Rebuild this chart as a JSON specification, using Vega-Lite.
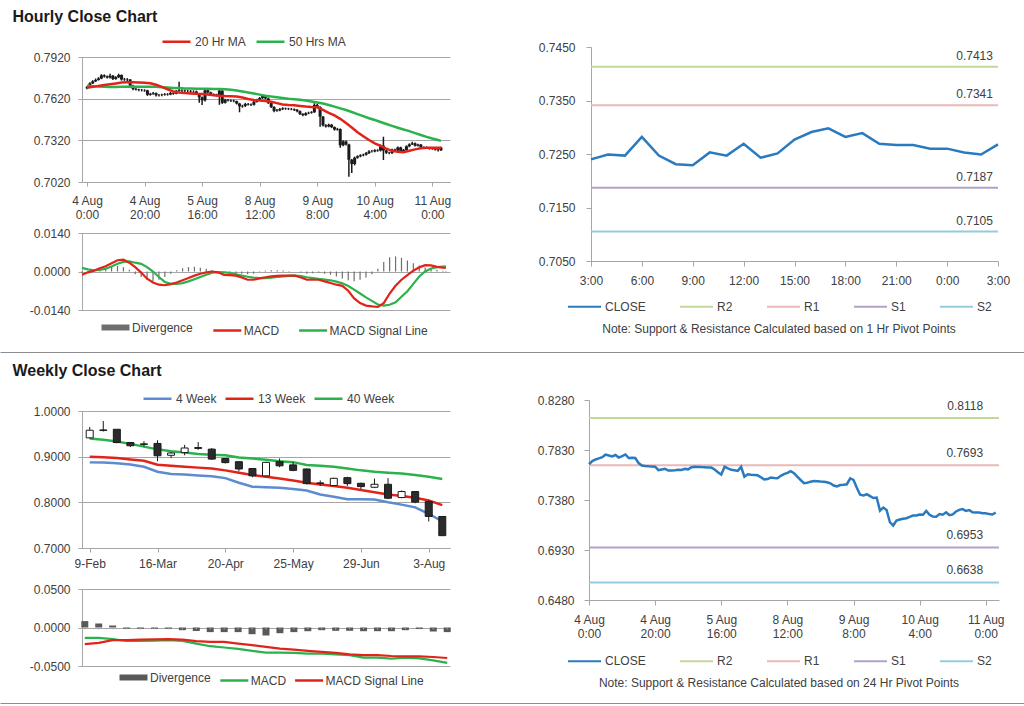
{
"$schema":"https://vega.github.io/schema/vega-lite/v6.json",
"width":1024,"height":706,"autosize":"none","padding":0,
"config":{"view":{"stroke":null},"font":"Liberation Sans",
 "axis":{"labelFont":"Liberation Sans","labelFontSize":12,"labelColor":"#404040","domainColor":"#a6a6a6","tickColor":"#a6a6a6","gridColor":"#a6a6a6","labelFlush":false,"labelOverlap":false},
 "legend":{"labelFont":"Liberation Sans","labelFontSize":12,"labelColor":"#404040","padding":0,"symbolType":"stroke","direction":"horizontal","orient":"none"}},
"datasets":{
"hourly":[
{"i":0,"o":0.7695,"h":0.7712,"l":0.7688,"c":0.7702},{"i":1,"o":0.7702,"h":0.7738,"l":0.7698,"c":0.773},{"i":2,"o":0.773,"h":0.7752,"l":0.7725,"c":0.7745},{"i":3,"o":0.7745,"h":0.7765,"l":0.774,"c":0.7755},{"i":4,"o":0.7755,"h":0.7775,"l":0.775,"c":0.7765},{"i":5,"o":0.7765,"h":0.7796,"l":0.776,"c":0.7788},{"i":6,"o":0.7788,"h":0.7795,"l":0.7772,"c":0.778},{"i":7,"o":0.778,"h":0.7786,"l":0.7765,"c":0.7772},{"i":8,"o":0.7772,"h":0.78,"l":0.7766,"c":0.7785},{"i":9,"o":0.7785,"h":0.779,"l":0.7755,"c":0.7762},
{"i":10,"o":0.7762,"h":0.7782,"l":0.7756,"c":0.7775},{"i":11,"o":0.7775,"h":0.78,"l":0.7768,"c":0.779},{"i":12,"o":0.779,"h":0.7795,"l":0.775,"c":0.7758},{"i":13,"o":0.7758,"h":0.777,"l":0.7748,"c":0.776},{"i":14,"o":0.776,"h":0.7768,"l":0.7745,"c":0.7758},{"i":15,"o":0.7758,"h":0.7762,"l":0.7705,"c":0.7712},{"i":16,"o":0.7712,"h":0.772,"l":0.768,"c":0.769},{"i":17,"o":0.769,"h":0.7698,"l":0.7678,"c":0.7686},{"i":18,"o":0.7686,"h":0.7692,"l":0.7674,"c":0.7683},{"i":19,"o":0.7683,"h":0.769,"l":0.7672,"c":0.7682},
{"i":20,"o":0.7682,"h":0.7688,"l":0.767,"c":0.768},{"i":21,"o":0.768,"h":0.7684,"l":0.764,"c":0.7648},{"i":22,"o":0.7648,"h":0.7662,"l":0.7642,"c":0.7655},{"i":23,"o":0.7655,"h":0.7668,"l":0.7648,"c":0.766},{"i":24,"o":0.766,"h":0.7665,"l":0.7636,"c":0.7645},{"i":25,"o":0.7645,"h":0.7654,"l":0.7636,"c":0.7646},{"i":26,"o":0.7646,"h":0.7656,"l":0.7638,"c":0.7648},{"i":27,"o":0.7648,"h":0.766,"l":0.7642,"c":0.7652},{"i":28,"o":0.7652,"h":0.766,"l":0.7642,"c":0.765},{"i":29,"o":0.765,"h":0.7668,"l":0.7645,"c":0.766},
{"i":30,"o":0.766,"h":0.7666,"l":0.7648,"c":0.7656},{"i":31,"o":0.7656,"h":0.7682,"l":0.7652,"c":0.7675},{"i":32,"o":0.7675,"h":0.7742,"l":0.767,"c":0.768},{"i":33,"o":0.768,"h":0.7688,"l":0.7668,"c":0.7678},{"i":34,"o":0.7678,"h":0.7686,"l":0.7666,"c":0.7676},{"i":35,"o":0.7676,"h":0.7684,"l":0.7665,"c":0.7675},{"i":36,"o":0.7675,"h":0.7682,"l":0.7662,"c":0.7672},{"i":37,"o":0.7672,"h":0.768,"l":0.766,"c":0.7672},{"i":38,"o":0.7672,"h":0.7678,"l":0.7648,"c":0.7655},{"i":39,"o":0.7655,"h":0.766,"l":0.759,"c":0.763},
{"i":40,"o":0.763,"h":0.7635,"l":0.7574,"c":0.7608},{"i":41,"o":0.7608,"h":0.7688,"l":0.76,"c":0.768},{"i":42,"o":0.768,"h":0.769,"l":0.7658,"c":0.7665},{"i":43,"o":0.7665,"h":0.767,"l":0.7645,"c":0.7652},{"i":44,"o":0.7652,"h":0.7658,"l":0.764,"c":0.7648},{"i":45,"o":0.7648,"h":0.7655,"l":0.7635,"c":0.7642},{"i":46,"o":0.7642,"h":0.7686,"l":0.7576,"c":0.7678},{"i":47,"o":0.7678,"h":0.768,"l":0.7582,"c":0.759},{"i":48,"o":0.759,"h":0.762,"l":0.7585,"c":0.7612},{"i":49,"o":0.7612,"h":0.7618,"l":0.76,"c":0.7608},
{"i":50,"o":0.7608,"h":0.7614,"l":0.7596,"c":0.7605},{"i":51,"o":0.7605,"h":0.7612,"l":0.7594,"c":0.7602},{"i":52,"o":0.7602,"h":0.7606,"l":0.7578,"c":0.7585},{"i":53,"o":0.7585,"h":0.759,"l":0.7522,"c":0.7565},{"i":54,"o":0.7565,"h":0.7576,"l":0.7555,"c":0.7568},{"i":55,"o":0.7568,"h":0.759,"l":0.756,"c":0.7582},{"i":56,"o":0.7582,"h":0.7588,"l":0.757,"c":0.7578},{"i":57,"o":0.7578,"h":0.7586,"l":0.7568,"c":0.7576},{"i":58,"o":0.7576,"h":0.7606,"l":0.757,"c":0.7598},{"i":59,"o":0.7598,"h":0.762,"l":0.7592,"c":0.7612},
{"i":60,"o":0.7612,"h":0.7632,"l":0.7606,"c":0.7625},{"i":61,"o":0.7625,"h":0.7648,"l":0.7618,"c":0.764},{"i":62,"o":0.764,"h":0.7645,"l":0.7615,"c":0.7622},{"i":63,"o":0.7622,"h":0.7628,"l":0.7582,"c":0.759},{"i":64,"o":0.759,"h":0.7596,"l":0.7552,"c":0.756},{"i":65,"o":0.756,"h":0.7565,"l":0.7522,"c":0.7532},{"i":66,"o":0.7532,"h":0.7545,"l":0.7525,"c":0.7536},{"i":67,"o":0.7536,"h":0.7552,"l":0.753,"c":0.7545},{"i":68,"o":0.7545,"h":0.7558,"l":0.7538,"c":0.755},{"i":69,"o":0.755,"h":0.7556,"l":0.754,"c":0.7548},
{"i":70,"o":0.7548,"h":0.7554,"l":0.7538,"c":0.7546},{"i":71,"o":0.7546,"h":0.7553,"l":0.7537,"c":0.7545},{"i":72,"o":0.7545,"h":0.755,"l":0.7532,"c":0.754},{"i":73,"o":0.754,"h":0.7545,"l":0.7522,"c":0.753},{"i":74,"o":0.753,"h":0.7535,"l":0.7502,"c":0.751},{"i":75,"o":0.751,"h":0.7515,"l":0.7494,"c":0.7502},{"i":76,"o":0.7502,"h":0.7522,"l":0.7496,"c":0.7515},{"i":77,"o":0.7515,"h":0.7526,"l":0.7508,"c":0.7518},{"i":78,"o":0.7518,"h":0.753,"l":0.7512,"c":0.7522},{"i":79,"o":0.7522,"h":0.7587,"l":0.7518,"c":0.7575},
{"i":80,"o":0.7575,"h":0.7584,"l":0.7552,"c":0.756},{"i":81,"o":0.756,"h":0.7565,"l":0.7418,"c":0.749},{"i":82,"o":0.749,"h":0.7495,"l":0.742,"c":0.7428},{"i":83,"o":0.7428,"h":0.7436,"l":0.7412,"c":0.742},{"i":84,"o":0.742,"h":0.744,"l":0.7414,"c":0.7432},{"i":85,"o":0.7432,"h":0.7438,"l":0.7408,"c":0.7415},{"i":86,"o":0.7415,"h":0.742,"l":0.739,"c":0.7398},{"i":87,"o":0.7398,"h":0.741,"l":0.739,"c":0.7402},{"i":88,"o":0.7402,"h":0.7406,"l":0.7267,"c":0.7285},{"i":89,"o":0.7285,"h":0.732,"l":0.7278,"c":0.7312},
{"i":90,"o":0.7312,"h":0.7318,"l":0.7282,"c":0.729},{"i":91,"o":0.729,"h":0.7295,"l":0.7058,"c":0.718},{"i":92,"o":0.718,"h":0.7186,"l":0.7085,"c":0.715},{"i":93,"o":0.715,"h":0.7202,"l":0.714,"c":0.7195},{"i":94,"o":0.7195,"h":0.7212,"l":0.7188,"c":0.7205},{"i":95,"o":0.7205,"h":0.722,"l":0.7198,"c":0.7212},{"i":96,"o":0.7212,"h":0.7224,"l":0.7205,"c":0.7216},{"i":97,"o":0.7216,"h":0.7236,"l":0.721,"c":0.7228},{"i":98,"o":0.7228,"h":0.7248,"l":0.7222,"c":0.724},{"i":99,"o":0.724,"h":0.725,"l":0.7232,"c":0.724},
{"i":100,"o":0.724,"h":0.7256,"l":0.7234,"c":0.7249},{"i":101,"o":0.7249,"h":0.7256,"l":0.7238,"c":0.7247},{"i":102,"o":0.7247,"h":0.729,"l":0.724,"c":0.7282},{"i":103,"o":0.7282,"h":0.7346,"l":0.7178,"c":0.7247},{"i":104,"o":0.7247,"h":0.7252,"l":0.7222,"c":0.7231},{"i":105,"o":0.7231,"h":0.7238,"l":0.722,"c":0.7229},{"i":106,"o":0.7229,"h":0.726,"l":0.7222,"c":0.7253},{"i":107,"o":0.7253,"h":0.726,"l":0.724,"c":0.7247},{"i":108,"o":0.7247,"h":0.7276,"l":0.724,"c":0.7269},{"i":109,"o":0.7269,"h":0.7274,"l":0.7236,"c":0.7243},
{"i":110,"o":0.7243,"h":0.7258,"l":0.7236,"c":0.7251},{"i":111,"o":0.7251,"h":0.7284,"l":0.7245,"c":0.7277},{"i":112,"o":0.7277,"h":0.7298,"l":0.727,"c":0.7291},{"i":113,"o":0.7291,"h":0.731,"l":0.7286,"c":0.7298},{"i":114,"o":0.7298,"h":0.7304,"l":0.7275,"c":0.7282},{"i":115,"o":0.7282,"h":0.7296,"l":0.7276,"c":0.7289},{"i":116,"o":0.7289,"h":0.7294,"l":0.7262,"c":0.7269},{"i":117,"o":0.7269,"h":0.7276,"l":0.726,"c":0.7267},{"i":118,"o":0.7267,"h":0.7275,"l":0.726,"c":0.7267},{"i":119,"o":0.7267,"h":0.7272,"l":0.7253,"c":0.726},
{"i":120,"o":0.726,"h":0.7268,"l":0.7252,"c":0.726},{"i":121,"o":0.726,"h":0.7266,"l":0.7246,"c":0.7253},{"i":122,"o":0.7253,"h":0.7258,"l":0.724,"c":0.7249},{"i":123,"o":0.7249,"h":0.7274,"l":0.7244,"c":0.7268}
],
"hma":[
{"i":0,"a":0.7699,"b":0.7713,"m":-0.0012,"s":0.0013,"d":-0.0005},{"i":2,"a":0.7705,"b":0.771,"m":-0.0003,"s":0.0008,"d":0.0002},{"i":4,"a":0.7712,"b":0.7707,"m":0.0003,"s":0.0004,"d":0.0005},{"i":6,"a":0.7718,"b":0.7705,"m":0.0012,"s":0.0006,"d":0.001},{"i":8,"a":0.7724,"b":0.7704,"m":0.0019,"s":0.001,"d":0.0014},{"i":10,"a":0.773,"b":0.7704,"m":0.003,"s":0.0018,"d":0.0018},{"i":12,"a":0.7736,"b":0.7705,"m":0.0041,"s":0.0028,"d":0.002},{"i":14,"a":0.7738,"b":0.7705,"m":0.0043,"s":0.0035,"d":0.0016},{"i":16,"a":0.7738,"b":0.7706,"m":0.0032,"s":0.0037,"d":0.0006},{"i":18,"a":0.7736,"b":0.7706,"m":0.0016,"s":0.0032,"d":-0.001},
{"i":20,"a":0.7734,"b":0.7706,"m":-0.0004,"s":0.0028,"d":-0.002},{"i":22,"a":0.7731,"b":0.7706,"m":-0.0026,"s":0.0016,"d":-0.003},{"i":24,"a":0.772,"b":0.7705,"m":-0.004,"s":0.0,"d":-0.0035},{"i":26,"a":0.7705,"b":0.7703,"m":-0.0048,"s":-0.002,"d":-0.003},{"i":28,"a":0.7688,"b":0.77,"m":-0.005,"s":-0.0038,"d":-0.002},{"i":30,"a":0.7672,"b":0.7697,"m":-0.0046,"s":-0.0045,"d":-0.0008},{"i":32,"a":0.7665,"b":0.7696,"m":-0.004,"s":-0.0045,"d":0.0005},{"i":34,"a":0.7661,"b":0.7694,"m":-0.0032,"s":-0.0042,"d":0.0012},{"i":36,"a":0.7658,"b":0.7693,"m":-0.0024,"s":-0.0036,"d":0.0016},{"i":38,"a":0.7655,"b":0.7692,"m":-0.0015,"s":-0.0028,"d":0.0017},
{"i":40,"a":0.7654,"b":0.7691,"m":-0.0008,"s":-0.002,"d":0.0014},{"i":42,"a":0.765,"b":0.7691,"m":-0.0003,"s":-0.0012,"d":0.001},{"i":44,"a":0.7645,"b":0.769,"m":0.0,"s":-0.0004,"d":0.0005},{"i":46,"a":0.7641,"b":0.769,"m":-0.0003,"s":-0.0002,"d":0.0001},{"i":48,"a":0.7639,"b":0.7688,"m":-0.0012,"s":-0.0003,"d":-0.0005},{"i":50,"a":0.7638,"b":0.7684,"m":-0.0013,"s":-0.0005,"d":-0.0008},{"i":52,"a":0.7636,"b":0.7678,"m":-0.0015,"s":-0.001,"d":-0.0008},{"i":54,"a":0.7628,"b":0.7672,"m":-0.0022,"s":-0.0015,"d":-0.0008},{"i":56,"a":0.7618,"b":0.7665,"m":-0.003,"s":-0.0019,"d":-0.001},{"i":58,"a":0.761,"b":0.7657,"m":-0.003,"s":-0.0022,"d":-0.0008},
{"i":60,"a":0.7606,"b":0.7649,"m":-0.0025,"s":-0.0024,"d":-0.0002},{"i":62,"a":0.7603,"b":0.7641,"m":-0.0021,"s":-0.0024,"d":0.0003},{"i":64,"a":0.7598,"b":0.7635,"m":-0.0018,"s":-0.0022,"d":0.0005},{"i":66,"a":0.7588,"b":0.763,"m":-0.0016,"s":-0.002,"d":0.0005},{"i":68,"a":0.7578,"b":0.7625,"m":-0.0015,"s":-0.0018,"d":0.0004},{"i":70,"a":0.7574,"b":0.762,"m":-0.0015,"s":-0.0016,"d":0.0002},{"i":72,"a":0.7572,"b":0.7616,"m":-0.0015,"s":-0.0015,"d":0.0},{"i":74,"a":0.7568,"b":0.7612,"m":-0.0022,"s":-0.0017,"d":-0.0004},{"i":76,"a":0.7563,"b":0.7607,"m":-0.003,"s":-0.0021,"d":-0.0008},{"i":78,"a":0.756,"b":0.76,"m":-0.003,"s":-0.0024,"d":-0.0006},
{"i":80,"a":0.7558,"b":0.7593,"m":-0.003,"s":-0.0027,"d":-0.0004},{"i":82,"a":0.754,"b":0.7585,"m":-0.0036,"s":-0.0029,"d":-0.0008},{"i":84,"a":0.7518,"b":0.7574,"m":-0.0042,"s":-0.0032,"d":-0.0012},{"i":86,"a":0.75,"b":0.7563,"m":-0.0048,"s":-0.0037,"d":-0.0018},{"i":88,"a":0.7475,"b":0.755,"m":-0.0052,"s":-0.0043,"d":-0.0025},{"i":90,"a":0.7445,"b":0.7538,"m":-0.007,"s":-0.0053,"d":-0.0032},{"i":92,"a":0.7412,"b":0.7524,"m":-0.0098,"s":-0.0066,"d":-0.0035},{"i":94,"a":0.7378,"b":0.7509,"m":-0.0115,"s":-0.008,"d":-0.003},{"i":96,"a":0.735,"b":0.7494,"m":-0.0124,"s":-0.0094,"d":-0.0022},{"i":98,"a":0.7322,"b":0.7479,"m":-0.0127,"s":-0.0107,"d":-0.001},
{"i":100,"a":0.7298,"b":0.7466,"m":-0.0129,"s":-0.012,"d":0.001},{"i":102,"a":0.728,"b":0.7452,"m":-0.0115,"s":-0.0124,"d":0.0035},{"i":104,"a":0.726,"b":0.7438,"m":-0.008,"s":-0.0121,"d":0.0052},{"i":106,"a":0.7244,"b":0.7424,"m":-0.0052,"s":-0.0112,"d":0.0055},{"i":108,"a":0.7237,"b":0.7411,"m":-0.003,"s":-0.0092,"d":0.005},{"i":110,"a":0.7235,"b":0.7398,"m":-0.0013,"s":-0.0072,"d":0.004},{"i":112,"a":0.7245,"b":0.7386,"m":0.0003,"s":-0.0045,"d":0.003},{"i":114,"a":0.7255,"b":0.7372,"m":0.0015,"s":-0.0018,"d":0.0022},{"i":116,"a":0.7263,"b":0.7358,"m":0.0023,"s":0.0,"d":0.0015},{"i":118,"a":0.7266,"b":0.7345,"m":0.0022,"s":0.0011,"d":0.001},
{"i":120,"a":0.7267,"b":0.7333,"m":0.0017,"s":0.0016,"d":0.0006},{"i":122,"a":0.7267,"b":0.7322,"m":0.0014,"s":0.0018,"d":0.0003},{"i":123,"a":0.7267,"b":0.7316,"m":0.0013,"s":0.0019,"d":0.0002}
],
"last24":[
{"t":0,"c":0.724},{"t":1,"c":0.7249},{"t":2,"c":0.7247},{"t":3,"c":0.7282},{"t":4,"c":0.7247},{"t":5,"c":0.7231},{"t":6,"c":0.7229},{"t":7,"c":0.7253},{"t":8,"c":0.7247},{"t":9,"c":0.7269},{"t":10,"c":0.7243},{"t":11,"c":0.7251},{"t":12,"c":0.7277},{"t":13,"c":0.7291},{"t":14,"c":0.7298},{"t":15,"c":0.7282},{"t":16,"c":0.7289},{"t":17,"c":0.7269},{"t":18,"c":0.7267},{"t":19,"c":0.7267},{"t":20,"c":0.726},{"t":21,"c":0.726},{"t":22,"c":0.7253},{"t":23,"c":0.7249},{"t":24,"c":0.7268}
],
"weekly":[
{"k":0,"o":0.9412,"h":0.965,"l":0.94,"c":0.9579,"w4":0.8875,"w13":0.9,"w40":0.94,"m":-0.0135,"s":-0.0217,"d":0.0083},
{"k":1,"o":0.9585,"h":0.978,"l":0.955,"c":0.9575,"w4":0.887,"w13":0.8985,"w40":0.937,"m":-0.0135,"s":-0.02,"d":0.0052},
{"k":2,"o":0.96,"h":0.9605,"l":0.929,"c":0.931,"w4":0.8855,"w13":0.897,"w40":0.933,"m":-0.015,"s":-0.0165,"d":0.0026},
{"k":3,"o":0.931,"h":0.932,"l":0.921,"c":0.924,"w4":0.883,"w13":0.894,"w40":0.928,"m":-0.0175,"s":-0.0165,"d":-0.0015},
{"k":4,"o":0.928,"h":0.934,"l":0.922,"c":0.927,"w4":0.878,"w13":0.891,"w40":0.922,"m":-0.0174,"s":-0.0157,"d":-0.0015},
{"k":5,"o":0.929,"h":0.936,"l":0.89,"c":0.902,"w4":0.867,"w13":0.8825,"w40":0.916,"m":-0.017,"s":-0.0153,"d":-0.0015},
{"k":6,"o":0.903,"h":0.91,"l":0.897,"c":0.908,"w4":0.862,"w13":0.88,"w40":0.912,"m":-0.0165,"s":-0.015,"d":-0.0015},
{"k":7,"o":0.909,"h":0.926,"l":0.903,"c":0.919,"w4":0.861,"w13":0.878,"w40":0.909,"m":-0.0174,"s":-0.0157,"d":-0.0035},
{"k":8,"o":0.918,"h":0.932,"l":0.915,"c":0.92,"w4":0.859,"w13":0.876,"w40":0.906,"m":-0.021,"s":-0.0178,"d":-0.0045},
{"k":9,"o":0.9165,"h":0.919,"l":0.893,"c":0.8947,"w4":0.857,"w13":0.874,"w40":0.904,"m":-0.0243,"s":-0.0187,"d":-0.006},
{"k":10,"o":0.896,"h":0.897,"l":0.885,"c":0.887,"w4":0.853,"w13":0.87,"w40":0.903,"m":-0.026,"s":-0.0187,"d":-0.006},
{"k":11,"o":0.889,"h":0.89,"l":0.868,"c":0.873,"w4":0.843,"w13":0.865,"w40":0.898,"m":-0.0278,"s":-0.0209,"d":-0.006},
{"k":12,"o":0.874,"h":0.875,"l":0.855,"c":0.858,"w4":0.834,"w13":0.86,"w40":0.896,"m":-0.0304,"s":-0.023,"d":-0.0087},
{"k":13,"o":0.858,"h":0.889,"l":0.857,"c":0.8875,"w4":0.833,"w13":0.856,"w40":0.893,"m":-0.0326,"s":-0.0252,"d":-0.0104},
{"k":14,"o":0.889,"h":0.896,"l":0.877,"c":0.88,"w4":0.832,"w13":0.852,"w40":0.89,"m":-0.0326,"s":-0.0274,"d":-0.0074},
{"k":15,"o":0.882,"h":0.888,"l":0.868,"c":0.87,"w4":0.829,"w13":0.848,"w40":0.888,"m":-0.033,"s":-0.0287,"d":-0.006},
{"k":16,"o":0.873,"h":0.874,"l":0.839,"c":0.841,"w4":0.826,"w13":0.843,"w40":0.882,"m":-0.034,"s":-0.0304,"d":-0.0048},
{"k":17,"o":0.8425,"h":0.848,"l":0.836,"c":0.8415,"w4":0.817,"w13":0.839,"w40":0.88,"m":-0.034,"s":-0.0317,"d":-0.0035},
{"k":18,"o":0.8367,"h":0.854,"l":0.836,"c":0.8526,"w4":0.812,"w13":0.836,"w40":0.878,"m":-0.035,"s":-0.033,"d":-0.0043},
{"k":19,"o":0.854,"h":0.856,"l":0.836,"c":0.841,"w4":0.807,"w13":0.832,"w40":0.874,"m":-0.036,"s":-0.0348,"d":-0.0043},
{"k":20,"o":0.8417,"h":0.843,"l":0.829,"c":0.8345,"w4":0.807,"w13":0.827,"w40":0.87,"m":-0.039,"s":-0.036,"d":-0.0048},
{"k":21,"o":0.833,"h":0.852,"l":0.831,"c":0.8395,"w4":0.806,"w13":0.822,"w40":0.867,"m":-0.039,"s":-0.036,"d":-0.0048},
{"k":22,"o":0.8395,"h":0.853,"l":0.807,"c":0.809,"w4":0.8,"w13":0.817,"w40":0.865,"m":-0.0405,"s":-0.037,"d":-0.0048},
{"k":23,"o":0.8105,"h":0.826,"l":0.809,"c":0.8236,"w4":0.795,"w13":0.814,"w40":0.863,"m":-0.039,"s":-0.0374,"d":-0.0035},
{"k":24,"o":0.8236,"h":0.824,"l":0.798,"c":0.8004,"w4":0.789,"w13":0.81,"w40":0.86,"m":-0.04,"s":-0.0374,"d":-0.002},
{"k":25,"o":0.8018,"h":0.805,"l":0.758,"c":0.7691,"w4":0.775,"w13":0.804,"w40":0.856,"m":-0.0426,"s":-0.0383,"d":-0.0052},
{"k":26,"o":0.769,"h":0.7695,"l":0.727,"c":0.727,"w4":0.758,"w13":0.794,"w40":0.851,"m":-0.046,"s":-0.0396,"d":-0.006}
],
"lv1":[{"n":"R2","v":0.7413},{"n":"R1","v":0.7341},{"n":"S1","v":0.7187},{"n":"S2","v":0.7105}],
"lv2":[{"n":"R2","v":0.8118},{"n":"R1","v":0.7693},{"n":"S1","v":0.6953},{"n":"S2","v":0.6638}],
"one":[{"z":0}]
},
"resolve":{"scale":{"x":"independent","y":"independent","color":"independent"}},
"layer":[
 {"data":{"name":"hourly"},"layer":[
   {"mark":{"type":"rule","color":"#1a1a1a","strokeWidth":1.5},
    "encoding":{
      "x":{"field":"i","type":"quantitative","scale":{"domain":[0,124.4],"range":[82,450],"nice":false,"zero":false},
           "axis":{"orient":"bottom","offset":-524,"title":null,"values":[0,20,40,60,80,100,120],"labelExpr":"[['4 Aug','0:00'],['4 Aug','20:00'],['5 Aug','16:00'],['8 Aug','12:00'],['9 Aug','8:00'],['10 Aug','4:00'],['11 Aug','0:00']][round(datum.value/20)]","grid":false,"tickSize":4,"labelPadding":9,"labelLineHeight":14}},
      "y":{"field":"l","type":"quantitative","scale":{"domain":[0.702,0.792],"range":[182,57],"nice":false,"zero":false},
           "axis":{"orient":"left","offset":-82,"values":[0.702,0.732,0.762,0.792],"format":".4f","grid":true,"tickSize":4,"labelPadding":8,
                   "title":"Hourly Close Chart","titleAngle":0,"titleX":-70,"titleY":21,"titleAlign":"left","titleBaseline":"alphabetic","titleFontSize":16,"titleFontWeight":"bold","titleColor":"#1a1a1a","titleFont":"Liberation Sans"}},
      "y2":{"field":"h"}}},
   {"mark":{"type":"bar","size":3,"color":"#1a1a1a"},
    "encoding":{"x":{"field":"i","type":"quantitative"},"y":{"field":"o","type":"quantitative"},"y2":{"field":"c"}}},
   {"data":{"name":"hma"},"mark":{"type":"line","strokeWidth":2.5},
    "encoding":{"x":{"field":"i","type":"quantitative"},"y":{"field":"b","type":"quantitative"},
      "color":{"datum":"50 Hrs MA","scale":{"domain":["20 Hr MA","50 Hrs MA"],"range":["#e2231a","#2bb24c"]},
        "legend":{"title":null,"legendX":161,"legendY":26,"symbolSize":784,"symbolStrokeWidth":2.5,"labelOffset":3,"columnPadding":5}}}},
   {"data":{"name":"hma"},"mark":{"type":"line","strokeWidth":2.5},
    "encoding":{"x":{"field":"i","type":"quantitative"},"y":{"field":"a","type":"quantitative"},"color":{"datum":"20 Hr MA"}}}
 ]},
 {"data":{"name":"hma"},"layer":[
   {"mark":{"type":"rule","strokeWidth":1.2},
    "encoding":{
      "x":{"field":"i","type":"quantitative","scale":{"domain":[0,124.4],"range":[82,450],"nice":false,"zero":false},"axis":null},
      "y":{"field":"d","type":"quantitative","scale":{"domain":[-0.014,0.014],"range":[310,233],"nice":false,"zero":false},
           "axis":{"orient":"left","offset":-82,"title":null,"values":[-0.014,0,0.014],"labelExpr":"datum.value < 0 ? '-' + format(-datum.value, '.4f') : format(datum.value, '.4f')","grid":true,"tickSize":4,"labelPadding":8}},
      "y2":{"datum":0},
      "color":{"datum":"Divergence","scale":{"domain":["Divergence","MACD","MACD Signal Line"],"range":["#6e6e6e","#e2231a","#2bb24c"]},
        "legend":{"title":null,"legendX":109.5,"legendY":321.5,"symbolSize":784,"symbolStrokeWidth":2.5,"labelOffset":10.5,"columnPadding":14.8,
          "encode":{"symbols":{"update":{"strokeWidth":{"signal":"datum.value === 'Divergence' ? 6 : 2.5"}}}}}}}},
   {"mark":{"type":"line","strokeWidth":2.2},
    "encoding":{"x":{"field":"i","type":"quantitative"},"y":{"field":"s","type":"quantitative"},"color":{"datum":"MACD Signal Line"}}},
   {"mark":{"type":"line","strokeWidth":2.2},
    "encoding":{"x":{"field":"i","type":"quantitative"},"y":{"field":"m","type":"quantitative"},"color":{"datum":"MACD"}}}
 ]},
 {"layer":[
   {"data":{"name":"lv1"},"mark":{"type":"rule","strokeWidth":2},
    "encoding":{
      "x":{"datum":0,"type":"quantitative","scale":{"domain":[0,24],"range":[591,998],"nice":false,"zero":false},
           "axis":{"orient":"bottom","offset":-445,"title":null,"values":[0,3,6,9,12,15,18,21,24],"labelExpr":"((datum.value + 3) % 24) + ':00'","grid":false,"tickSize":5,"labelPadding":9}},
      "x2":{"datum":24},
      "y":{"field":"v","type":"quantitative","scale":{"domain":[0.705,0.745],"range":[261,47],"nice":false,"zero":false},
           "axis":{"orient":"left","offset":-591,"title":null,"values":[0.705,0.715,0.725,0.735,0.745],"format":".4f","grid":false,"tickSize":5,"labelPadding":11}},
      "color":{"field":"n","type":"nominal","scale":{"domain":["CLOSE","R2","R1","S1","S2"],"range":["#2a7ac0","#c4d79b","#eab8b7","#b3a2c7","#93cddd"]},
        "legend":{"title":"Note: Support & Resistance Calculated based on 1 Hr Pivot Points","titleOrient":"bottom","titleAnchor":"middle","titleFontWeight":"normal","titleFontSize":12,"titleColor":"#404040","titleFont":"Liberation Sans","titleLimit":600,"titlePadding":11,
          "legendX":567,"legendY":289,"symbolSize":1089,"symbolStrokeWidth":2,"labelOffset":3,"columnPadding":30}}}},
   {"data":{"name":"lv1"},"mark":{"type":"text","align":"right","baseline":"middle","dy":-11,"fontSize":12,"color":"#404040","font":"Liberation Sans"},
    "encoding":{"x":{"datum":23.7,"type":"quantitative"},"y":{"field":"v","type":"quantitative"},"text":{"field":"v","type":"quantitative","format":".4f"}}},
   {"data":{"name":"last24"},"mark":{"type":"line","strokeWidth":2.5},
    "encoding":{"x":{"field":"t","type":"quantitative"},"y":{"field":"c","type":"quantitative"},"color":{"datum":"CLOSE"}}}
 ]},
 {"data":{"name":"weekly"},"layer":[
   {"mark":{"type":"line","strokeWidth":2.5},
    "encoding":{
      "x":{"field":"k","type":"quantitative","scale":{"domain":[-0.2,26.2],"range":[82,450],"nice":false,"zero":false},
           "axis":{"orient":"bottom","offset":-158,"title":null,"values":[0,5,10,15,20,25],"labelExpr":"['9-Feb','16-Mar','20-Apr','25-May','29-Jun','3-Aug'][round(datum.value/5)]","grid":false,"tickSize":4,"labelPadding":6}},
      "y":{"field":"w4","type":"quantitative","scale":{"domain":[0.7,1.0],"range":[548,411],"nice":false,"zero":false},
           "axis":{"orient":"left","offset":-82,"values":[0.7,0.8,0.9,1.0],"format":".4f","grid":true,"tickSize":4,"labelPadding":8,
                   "title":"Weekly Close Chart","titleAngle":0,"titleX":-70,"titleY":375,"titleAlign":"left","titleBaseline":"alphabetic","titleFontSize":16,"titleFontWeight":"bold","titleColor":"#1a1a1a","titleFont":"Liberation Sans"}},
      "color":{"datum":"4 Week","scale":{"domain":["4 Week","13 Week","40 Week"],"range":["#5b8bd0","#e2231a","#2bb24c"]},
        "legend":{"title":null,"legendX":142,"legendY":383,"symbolSize":784,"symbolStrokeWidth":2.5,"labelOffset":3,"columnPadding":3}}}},
   {"mark":{"type":"line","strokeWidth":2.5},
    "encoding":{"x":{"field":"k","type":"quantitative"},"y":{"field":"w13","type":"quantitative"},"color":{"datum":"13 Week"}}},
   {"mark":{"type":"line","strokeWidth":2.5},
    "encoding":{"x":{"field":"k","type":"quantitative"},"y":{"field":"w40","type":"quantitative"},"color":{"datum":"40 Week"}}},
   {"mark":{"type":"rule","color":"#1a1a1a","strokeWidth":1},
    "encoding":{"x":{"field":"k","type":"quantitative"},"y":{"field":"l","type":"quantitative"},"y2":{"field":"h"}}},
   {"mark":{"type":"bar","size":7,"stroke":"#1a1a1a","strokeWidth":1},
    "encoding":{"x":{"field":"k","type":"quantitative"},"y":{"field":"o","type":"quantitative"},"y2":{"field":"c"},
      "fill":{"condition":{"test":"datum.c > datum.o","value":"#ffffff"},"value":"#2b2b2b"}}}
 ]},
 {"data":{"name":"weekly"},"layer":[
   {"mark":{"type":"rule","strokeWidth":7},
    "encoding":{
      "x":{"field":"k","type":"quantitative","scale":{"domain":[-0.2,26.2],"range":[82,450],"nice":false,"zero":false},"axis":null},
      "y":{"field":"d","type":"quantitative","scale":{"domain":[-0.05,0.05],"range":[666,589],"nice":false,"zero":false},
           "axis":{"orient":"left","offset":-82,"title":null,"values":[-0.05,0,0.05],"labelExpr":"datum.value < 0 ? '-' + format(-datum.value, '.4f') : format(datum.value, '.4f')","grid":true,"tickSize":4,"labelPadding":8}},
      "y2":{"datum":0},
      "color":{"datum":"Divergence","scale":{"domain":["Divergence","MACD","MACD Signal Line"],"range":["#595959","#2bb24c","#e2231a"]},
        "legend":{"title":null,"legendX":127.5,"legendY":671.5,"symbolSize":784,"symbolStrokeWidth":2.5,"labelOffset":10.5,"columnPadding":3.8,
          "encode":{"symbols":{"update":{"strokeWidth":{"signal":"datum.value === 'Divergence' ? 6 : 2.5"}}}}}}}},
   {"mark":{"type":"rule","color":"#a6a6a6","strokeWidth":1},
    "encoding":{"x":{"field":"k","type":"quantitative"},"y":{"datum":0},"y2":{"datum":-0.0025}}},
   {"mark":{"type":"line","strokeWidth":2.2},
    "encoding":{"x":{"field":"k","type":"quantitative"},"y":{"field":"m","type":"quantitative"},"color":{"datum":"MACD"}}},
   {"mark":{"type":"line","strokeWidth":2.2},
    "encoding":{"x":{"field":"k","type":"quantitative"},"y":{"field":"s","type":"quantitative"},"color":{"datum":"MACD Signal Line"}}}
 ]},
 {"layer":[
   {"data":{"name":"lv2"},"mark":{"type":"rule","strokeWidth":2},
    "encoding":{
      "x":{"datum":0,"type":"quantitative","scale":{"domain":[0,124],"range":[589,999],"nice":false,"zero":false},
           "axis":{"orient":"bottom","offset":-106,"title":null,"values":[0,20,40,60,80,100,120],"labelExpr":"[['4 Aug','0:00'],['4 Aug','20:00'],['5 Aug','16:00'],['8 Aug','12:00'],['9 Aug','8:00'],['10 Aug','4:00'],['11 Aug','0:00']][round(datum.value/20)]","grid":false,"tickSize":5,"labelPadding":9,"labelLineHeight":14}},
      "x2":{"datum":124},
      "y":{"field":"v","type":"quantitative","scale":{"domain":[0.648,0.828],"range":[600,400],"nice":false,"zero":false},
           "axis":{"orient":"left","offset":-589,"title":null,"values":[0.648,0.693,0.738,0.783,0.828],"format":".4f","grid":false,"tickSize":5,"labelPadding":10}},
      "color":{"field":"n","type":"nominal","scale":{"domain":["CLOSE","R2","R1","S1","S2"],"range":["#2a7ac0","#c4d79b","#eab8b7","#b3a2c7","#93cddd"]},
        "legend":{"title":"Note: Support & Resistance Calculated based on 24 Hr Pivot Points","titleOrient":"bottom","titleAnchor":"middle","titleFontWeight":"normal","titleFontSize":12,"titleColor":"#404040","titleFont":"Liberation Sans","titleLimit":600,"titlePadding":10,
          "legendX":567,"legendY":643.5,"symbolSize":1089,"symbolStrokeWidth":2,"labelOffset":3,"columnPadding":30}}}},
   {"data":{"name":"lv2"},"mark":{"type":"text","align":"right","baseline":"middle","dy":-12,"fontSize":12,"color":"#404040","font":"Liberation Sans"},
    "encoding":{"x":{"datum":119.2,"type":"quantitative"},"y":{"field":"v","type":"quantitative"},"text":{"field":"v","type":"quantitative","format":".4f"}}},
   {"data":{"name":"hourly"},"mark":{"type":"line","strokeWidth":2.5},
    "encoding":{"x":{"field":"i","type":"quantitative"},"y":{"field":"c","type":"quantitative"},"color":{"datum":"CLOSE"}}}
 ]},
 {"data":{"name":"one"},"mark":{"type":"point","opacity":0},
  "encoding":{
    "x":{"datum":0,"type":"quantitative","scale":{"domain":[0,1],"range":[0,1024]},"axis":{"orient":"top","offset":-352,"title":null,"labels":false,"ticks":false,"grid":false,"domainColor":"#8c8c8c"}},
    "y":{"datum":0,"type":"quantitative","scale":{"domain":[0,1],"range":[706,0]},"axis":null}}},
 {"data":{"name":"one"},"mark":{"type":"point","opacity":0},
  "encoding":{
    "x":{"datum":0,"type":"quantitative","scale":{"domain":[0,1],"range":[0,1024]},"axis":{"orient":"bottom","offset":-3,"title":null,"labels":false,"ticks":false,"grid":false,"domainColor":"#8c8c8c"}},
    "y":{"datum":0,"type":"quantitative","scale":{"domain":[0,1],"range":[706,0]},"axis":null}}}
]
}
